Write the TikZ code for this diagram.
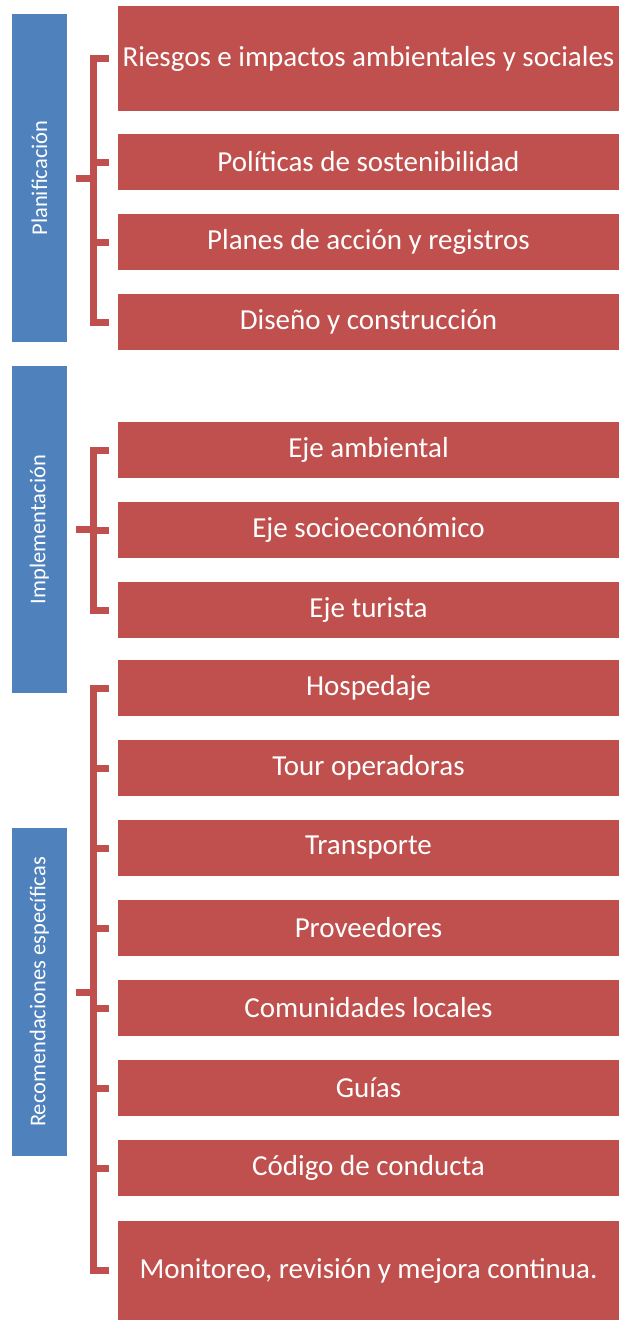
\documentclass[tikz,border=0pt]{standalone}
\usepackage{fontspec}
\setsansfont{Carlito}
\usetikzlibrary{calc}

\definecolor{boxred}{HTML}{C0504D}
\definecolor{boxblue}{HTML}{4F81BD}

\tikzset{
    item/.style={fill=boxred, text=white, minimum width=501pt, minimum height=56pt,
        inner sep=0pt, font=\sffamily\fontsize{29}{31}\selectfont},
    phase/.style={fill=boxblue, text=white, minimum width=55pt, inner sep=0pt,
        font=\sffamily\fontsize{22.5}{24}\selectfont},
    brk/.style={draw=boxred, line width=7pt},
}

\begin{document}
\begin{tikzpicture}[x=1pt, y=-1pt]
    \useasboundingbox (0, 0) rectangle (619, 1320);
    \def\gap{9};

    \coordinate (sp) at (93.5, 0);

    % phases
    \node[phase, minimum height=328pt] (b1) at (39.5, 178) {\rotatebox{90}{Planificación}};
    \node[phase, minimum height=327pt] (b2) at (39.5, 529.5) {\rotatebox{90}{Implementación}};
    \node[phase, minimum height=328pt] (b3) at (39.5, 992) {\rotatebox{90}{Recomendaciones específicas}};

    % items
    \node[item, minimum height=105pt] (r1) at (368.5, 58.5) {Riesgos e impactos ambientales y sociales};
    \node[item] (r2) at (368.5, 162) {Políticas de sostenibilidad};
    \node[item] (r3) at (368.5, 242) {Planes de acción y registros};
    \node[item] (r4) at (368.5, 322) {Diseño y construcción};

    \node[item] (r5) at (368.5, 450) {Eje ambiental};
    \node[item] (r6) at (368.5, 530) {Eje socioeconómico};
    \node[item] (r7) at (368.5, 610) {Eje turista};

    \node[item] (r8) at (368.5, 688) {Hospedaje};
    \node[item] (r9) at (368.5, 768) {Tour operadoras};
    \node[item] (r10) at (368.5, 848) {Transporte};
    \node[item] (r11) at (368.5, 928) {Proveedores};
    \node[item] (r12) at (368.5, 1008) {Comunidades locales};
    \node[item] (r13) at (368.5, 1088) {Guías};
    \node[item] (r14) at (368.5, 1168) {Código de conducta};
    \node[item, minimum height=99pt] (r15) at (368.5, 1270.5) {Monitoreo, revisión y mejora continua.};

    % brackets
    \draw[brk] ($(r1.west)+(-\gap,0)$) -- (sp |- r1.west) -- (sp |- r4.west) -- ($(r4.west)+(-\gap,0)$);
    \draw[brk] ($(r5.west)+(-\gap,0)$) -- (sp |- r5.west) -- (sp |- r7.west) -- ($(r7.west)+(-\gap,0)$);
    \draw[brk] ($(r8.west)+(-\gap,0)$) -- (sp |- r8.west) -- (sp |- r15.west) -- ($(r15.west)+(-\gap,0)$);
    \foreach \n in {r2, r3, r6, r9, r10, r11, r12, r13, r14}
        \draw[brk, shorten >=\gap pt] (sp |- \n.west) -- (\n.west);
    \foreach \b in {b1, b2, b3}
        \draw[brk, shorten <=\gap pt] (\b.east) -- (sp |- \b.east);

\end{tikzpicture}
\end{document}
